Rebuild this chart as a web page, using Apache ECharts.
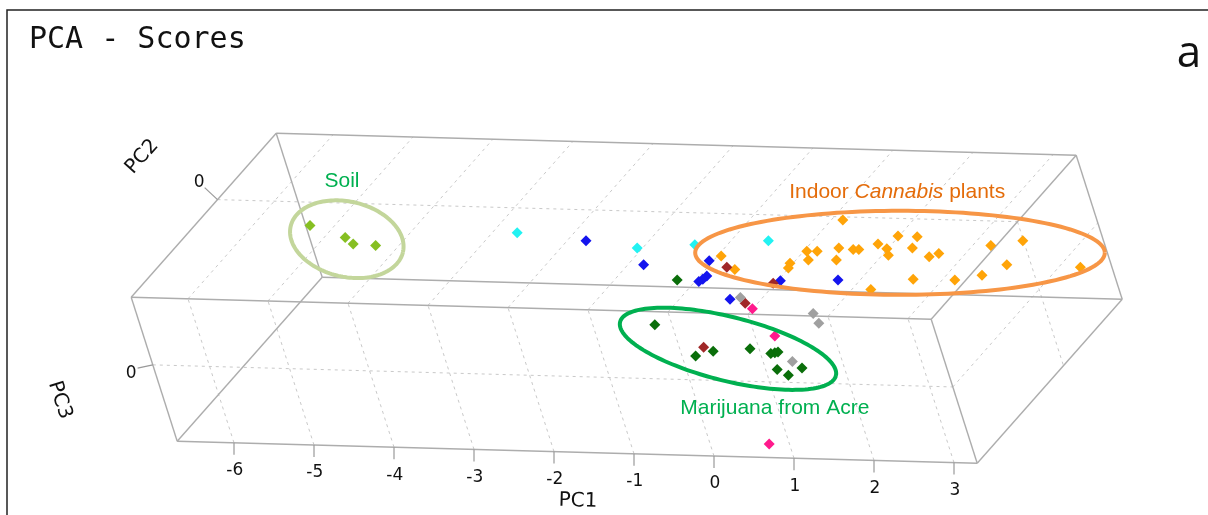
<!DOCTYPE html>
<html><head><meta charset="utf-8">
<script src="https://cdn.jsdelivr.net/npm/echarts@6/dist/echarts.min.js"></script>
<style>html,body{margin:0;padding:0;background:#fff}#c{width:1208px;height:515px}</style>
</head><body><div id="c"></div>
<script>
// ---------- DATA (projected score positions: x = PC1-scaled horizontal, y = vertical, same units) ----------
const groupNames = ['Soil','Cyan samples','Blue samples','Indoor Cannabis plants','Brown samples','Grey samples','Pink samples','Marijuana from Acre'];
const soilScores   = [[-5.05,2.88],[-4.61,2.73],[-4.51,2.65],[-4.23,2.63]];
const cyanScores   = [[-2.46,2.79],[-0.96,2.60],[-0.24,2.64],[0.68,2.69]];
const blueScores   = [[-1.60,2.69],[-0.88,2.39],[-0.06,2.44],[-0.09,2.25],[-0.14,2.21],[-0.19,2.18],[0.83,2.19],[1.55,2.20],[0.20,1.96]];
const indoorScores = [[0.09,2.50],[0.26,2.33],[1.61,2.95],[0.95,2.41],[0.93,2.35],[1.16,2.56],[1.29,2.56],[1.18,2.45],[1.56,2.60],[1.53,2.45],
                      [1.74,2.58],[1.81,2.58],[2.05,2.65],[2.16,2.59],[2.18,2.51],[2.30,2.75],[2.54,2.74],[2.48,2.60],[2.69,2.49],[2.81,2.53],
                      [2.49,2.21],[3.01,2.20],[3.46,2.63],[3.86,2.69],[3.66,2.39],[3.35,2.26],[4.58,2.36],[1.96,2.08]];
const brownScores  = [[0.16,2.36],[0.74,2.16],[0.39,1.91],[-0.13,1.36]];
const greyScores   = [[0.33,1.98],[1.24,1.78],[1.31,1.66],[0.98,1.18]];
const pinkScores   = [[0.48,1.84],[0.76,1.50],[0.69,0.15]];
const acreScores   = [[-0.46,2.20],[-0.74,1.64],[-0.23,1.25],[-0.01,1.31],[0.45,1.34],[0.71,1.28],[0.76,1.29],[0.80,1.30],[0.79,1.08],[0.93,1.01],[1.10,1.10]];
const pc1Ticks = [-6,-5,-4,-3,-2,-1,0,1,2,3];
const pc1TickLabels = ['-6','-5','-4','-3','-2','-1','0','1','2','3'];
const pc2TickLabels = ['0'];
const pc3TickLabels = ['0'];
const axisNames = ['PC1','PC2','PC3'];
const annotationTexts = ['Soil','Indoor Cannabis plants','Marijuana from Acre'];

// ---------- LAYOUT / STYLE ----------
const colors = ['#86bf22','#22f2f2','#1414ee','#ffa408','#a02828','#a0a0a0','#ff1a8c','#0a6e0a'];
const groups = [soilScores,cyanScores,blueScores,indoorScores,brownScores,greyScores,pinkScores,acreScores];
const BOX = {t0:-6.71, t1:3.29, z2:0.595, z3:0.53};      // PC1 extent, PC2 / PC3 zero planes (box fractions)
const U=[1,-0.0276], H=[-0.575,1.80], D=[1.8125,2.05];     // oblique projection vectors
function P(t,d,h){return [t*U[0]+h*H[0]+d*D[0], t*U[1]+h*H[1]+d*D[1]];}
function add(a,o){return [a[0]+o[0],a[1]+o[1]];}
function seg(a,b){return [a[0],a[1],b[0],b[1]];}
const T0=BOX.t0,T1=BOX.t1;

const frameSegs=[];
for(const d of [0,1]) for(const h of [0,1]) frameSegs.push(seg(P(T0,d,h),P(T1,d,h)));
for(const t of [T0,T1]) for(const h of [0,1]) frameSegs.push(seg(P(t,0,h),P(t,1,h)));
for(const t of [T0,T1]) for(const d of [0,1]) frameSegs.push(seg(P(t,d,0),P(t,d,1)));

const gridSegs=[];
pc1Ticks.forEach(t=>{gridSegs.push(seg(P(t,0,0),P(t,0,1))); gridSegs.push(seg(P(t,0,1),P(t,1,1)));});
gridSegs.push(seg(P(T0,0,BOX.z3),P(T1,0,BOX.z3)));
gridSegs.push(seg(P(T1,0,BOX.z3),P(T1,1,BOX.z3)));
gridSegs.push(seg(P(T0,BOX.z2,1),P(T1,BOX.z2,1)));
gridSegs.push(seg(P(T1,BOX.z2,1),P(T1,BOX.z2,0)));

const tickSegs=[]; const texts=[];
pc1Ticks.forEach((t,i)=>{const b=P(t,0,0); tickSegs.push(seg(b,add(b,[0,-0.15])));
  texts.push({p:add(b,[0.01,-0.35]), text:pc1TickLabels[i], size:17});});
{const b=P(T0,BOX.z2,1); tickSegs.push(seg(b,add(b,[-0.16,0.15]))); texts.push({p:add(b,[-0.23,0.21]), text:pc2TickLabels[0], size:17});}
{const b=P(T0,0,BOX.z3); tickSegs.push(seg(b,add(b,[-0.19,-0.04]))); texts.push({p:add(b,[-0.27,-0.11]), text:pc3TickLabels[0], size:17});}
texts.push({p:add(P(-2,0,0),[0.3,-0.62]), text:axisNames[0], size:20, rot:-1.6});
texts.push({p:add(P(T0,0.5,1),[-0.77,0.73]), text:axisNames[1], size:20, rot:48});
texts.push({p:add(P(T0,0,0.5),[-1.18,-0.385]), text:axisNames[2], size:20, rot:-72});

const annColors=['#00b050','#e46c0a','#00b050'];
const annPos=[[-4.65,3.43],[2.29,3.30],[0.76,0.60]];
const ellipses=[
  {c:[-4.59,2.71], rx:0.72, ry:0.47, ang:13, color:'#c3d69b'},
  {c:[2.325,2.54], rx:2.56, ry:0.525, ang:0, color:'#f79646'},
  {c:[0.175,1.34], rx:1.39, ry:0.40, ang:14, color:'#00b050'}
];

function segRender(style){return function(params,api){
  const a=api.coord([api.value(0),api.value(1)]), b=api.coord([api.value(2),api.value(3)]);
  return {type:'line', shape:{x1:a[0],y1:a[1],x2:b[0],y2:b[1]}, style:Object.assign({fill:null},style)};
};}

const series=[
  {type:'custom', name:'grid', z:1, silent:true, data:gridSegs, encode:{x:[0,2],y:[1,3]},
   renderItem:segRender({stroke:'#c9c9c9', lineWidth:1, lineDash:[3,4]})},
  {type:'custom', name:'frame', z:2, silent:true, data:frameSegs, encode:{x:[0,2],y:[1,3]},
   renderItem:segRender({stroke:'#adadad', lineWidth:1.4})},
  {type:'custom', name:'ticks', z:2, silent:true, data:tickSegs, encode:{x:[0,2],y:[1,3]},
   renderItem:segRender({stroke:'#999', lineWidth:1.2})},
  {type:'custom', name:'axisText', z:6, silent:true, data:texts.map(t=>t.p),
   renderItem:function(params,api){const L=texts[params.dataIndex]; const c=api.coord([api.value(0),api.value(1)]);
     return {type:'text', x:c[0], y:c[1], rotation:(L.rot||0)*Math.PI/180,
       style:{text:L.text, fill:'#111', fontSize:L.size, fontFamily:'DejaVu Sans', align:'center', verticalAlign:'middle'}};}}
];
groups.forEach((g,i)=>series.push({type:'scatter', name:groupNames[i], z:3, data:g, symbol:'diamond', symbolSize:11,
  itemStyle:{color:colors[i], opacity:1}}));
series.push({type:'custom', name:'ellipses', z:4, silent:true, data:ellipses.map(e=>e.c),
  renderItem:function(params,api){const e=ellipses[params.dataIndex]; const c=api.coord(e.c); const s=api.size([1,1]);
    const a=e.ang*Math.PI/180, pts=[];
    for(let k=0;k<=160;k++){const th=k/160*2*Math.PI; const ex=e.rx*s[0]*Math.cos(th), ey=e.ry*s[1]*Math.sin(th);
      pts.push([c[0]+ex*Math.cos(a)-ey*Math.sin(a), c[1]+ex*Math.sin(a)+ey*Math.cos(a)]);}
    return {type:'polyline', shape:{points:pts}, style:{fill:null, stroke:e.color, lineWidth:4}};}});
series.push({type:'custom', name:'annotations', z:6, silent:true, data:annPos,
  renderItem:function(params,api){const i=params.dataIndex; const c=api.coord([api.value(0),api.value(1)]);
    let txt=annotationTexts[i]; const base={fill:annColors[i], fontSize:21, fontFamily:'Liberation Sans'};
    const rich={n:Object.assign({},base), it:Object.assign({fontStyle:'italic'},base)};
    txt=txt.replace(/^(.*?)(Cannabis)(.*)$/, '{n|$1}{it|$2}{n|$3}');
    if(txt.indexOf('{')!==0) txt='{n|'+txt+'}';
    return {type:'text', x:c[0], y:c[1], style:{text:txt, rich:rich, fill:annColors[i], fontSize:21, fontFamily:'Liberation Sans', align:'center', verticalAlign:'middle'}};}});

const option={
  animation:false,
  backgroundColor:'#fff',
  title:{text:'PCA - Scores', left:24, top:20, textStyle:{fontFamily:'DejaVu Sans Mono', fontSize:30, fontWeight:'normal', color:'#111'}},
  grid:{left:0,right:0,top:0,bottom:0},
  xAxis:{type:'value', min:-8.925, max:6.175, show:false},
  yAxis:{type:'value', min:-0.7375, max:5.7, show:false},
  graphic:[
    {type:'rect', shape:{x:7,y:10,width:1400,height:700}, style:{fill:null, stroke:'#222', lineWidth:1.5}, z:10, silent:true},
    {type:'text', x:1189, y:54, style:{text:'a', fontSize:44, fontFamily:'Open Sans', fill:'#111', align:'center', verticalAlign:'middle'}, z:10}
  ],
  series:series
};
const chart=echarts.init(document.getElementById('c'));
chart.setOption(option);
</script></body></html>
